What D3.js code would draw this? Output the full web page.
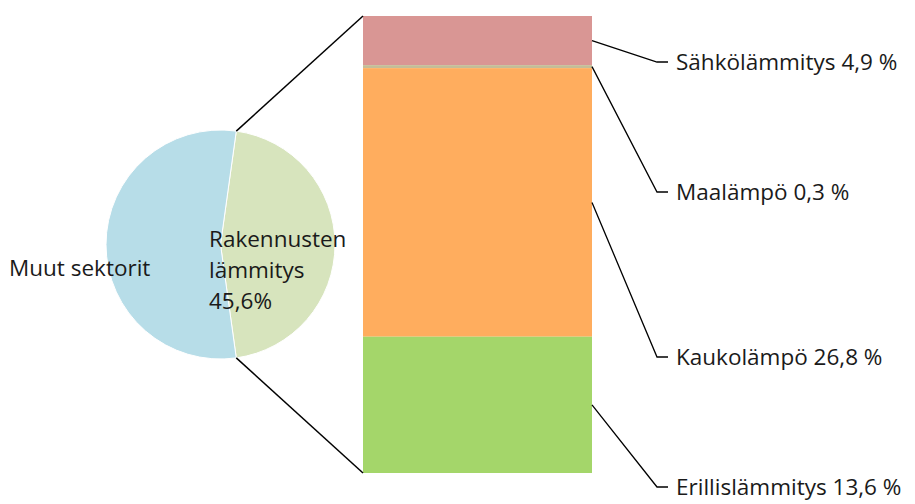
<!DOCTYPE html>
<html>
<head>
<meta charset="utf-8">
<script src="https://cdn.jsdelivr.net/npm/d3@7"></script>
<style>
body { margin: 0; background: #fff; }
text { font-family: "Open Sans", sans-serif; font-size: 22.5px; fill: #1a1a1a; }
</style>
</head>
<body>
<div class="chart_div"></div>
<script>
// pie: whole vs. building heating
var pie_names = ["Rakennusten lämmitys", "Muut sektorit"];
var pie_values = [45.6, 54.4];
var pie_colors = ["#d7e4bd", "#b7dde8"];

// bar: breakdown of building heating (top to bottom)
var bar_names = ["Sähkölämmitys", "Maalämpö", "Kaukolämpö", "Erillislämmitys"];
var bar_values = [4.9, 0.3, 26.8, 13.6];
var bar_labels = ["Sähkölämmitys 4,9 %", "Maalämpö 0,3 %", "Kaukolämpö 26,8 %", "Erillislämmitys 13,6 %"];
var bar_colors = ["#d99694", "#c4bd97", "#ffad5e", "#a4d66a"];

var W = 915, H = 504;
var cx = 220.5, cy = 244.5, R = 114.5;
var barX = 363, barW = 229, barTop = 16, barBottom = 473;
var labelY = [62, 192, 357, 487]; // elbow heights of leader lines

var svg = d3.select(".chart_div").append("svg")
	.attr("width", W)
	.attr("height", H);

// pie, first slice centred on the right side
var share = pie_values[0] / d3.sum(pie_values);
var start = Math.PI / 2 - share * Math.PI;
var pie = d3.pie().sort(null).startAngle(start).endAngle(start + 2 * Math.PI);
var arcs = pie(pie_values);
var arc = d3.arc().innerRadius(0).outerRadius(R);

var g = svg.append("g").attr("transform", "translate(" + cx + "," + cy + ")");
g.selectAll("path")
	.data(arcs)
	.enter()
	.append("path")
	.attr("d", arc)
	.attr("fill", function(d, i){ return pie_colors[i]; })
	.attr("stroke", "#fff")
	.attr("stroke-width", 1);

// stacked bar
var y = d3.scaleLinear().domain([0, d3.sum(bar_values)]).range([barTop, barBottom]);
var stackTop = [];
var acc = 0;
bar_values.forEach(function(v){ stackTop.push(acc); acc += v; });

svg.selectAll("rect.seg")
	.data(bar_values)
	.enter()
	.append("rect")
	.attr("class", "seg")
	.attr("x", barX)
	.attr("width", barW)
	.attr("y", function(d, i){ return y(stackTop[i]); })
	.attr("height", function(d){ return y(d) - y(0); })
	.attr("fill", function(d, i){ return bar_colors[i]; });

// connector lines pie -> bar
var a0 = arcs[0].startAngle, a1 = arcs[0].endAngle;
var p0 = [cx + R * Math.sin(a0), cy - R * Math.cos(a0)];
var p1 = [cx + R * Math.sin(a1), cy - R * Math.cos(a1)];
svg.append("line")
	.attr("x1", p0[0]).attr("y1", p0[1])
	.attr("x2", barX).attr("y2", y(0))
	.attr("stroke", "#000").attr("stroke-width", 1.5);
svg.append("line")
	.attr("x1", p1[0]).attr("y1", p1[1])
	.attr("x2", barX).attr("y2", y(d3.sum(bar_values)))
	.attr("stroke", "#000").attr("stroke-width", 1.5);

// leader lines
var bx = barX + barW;
svg.selectAll("polyline.lead")
	.data(bar_values)
	.enter()
	.append("polyline")
	.attr("class", "lead")
	.attr("points", function(d, i){
		var my = y(stackTop[i] + d / 2);
		return [[bx, my], [657, labelY[i]], [668, labelY[i]]].join(" ");
	})
	.attr("fill", "none")
	.attr("stroke", "#000")
	.attr("stroke-width", 1.3);

svg.selectAll("text.lab")
	.data(bar_labels)
	.enter()
	.append("text")
	.attr("class", "lab")
	.attr("x", 676)
	.attr("y", function(d, i){ return labelY[i]; })
	.attr("dy", "0.35em")
	.text(function(d){ return d; });

// pie labels
svg.append("text")
	.attr("x", 9)
	.attr("y", 268)
	.attr("dy", "0.35em")
	.text(pie_names[1]);

var rl = svg.append("text").attr("x", 209).attr("y", 239).attr("dy", "0.35em");
["Rakennusten", "lämmitys", "45,6%"].forEach(function(t, i){
	rl.append("tspan").attr("x", 209).attr("dy", i == 0 ? "0.35em" : 31).text(t);
});
</script>
</body>
</html>
